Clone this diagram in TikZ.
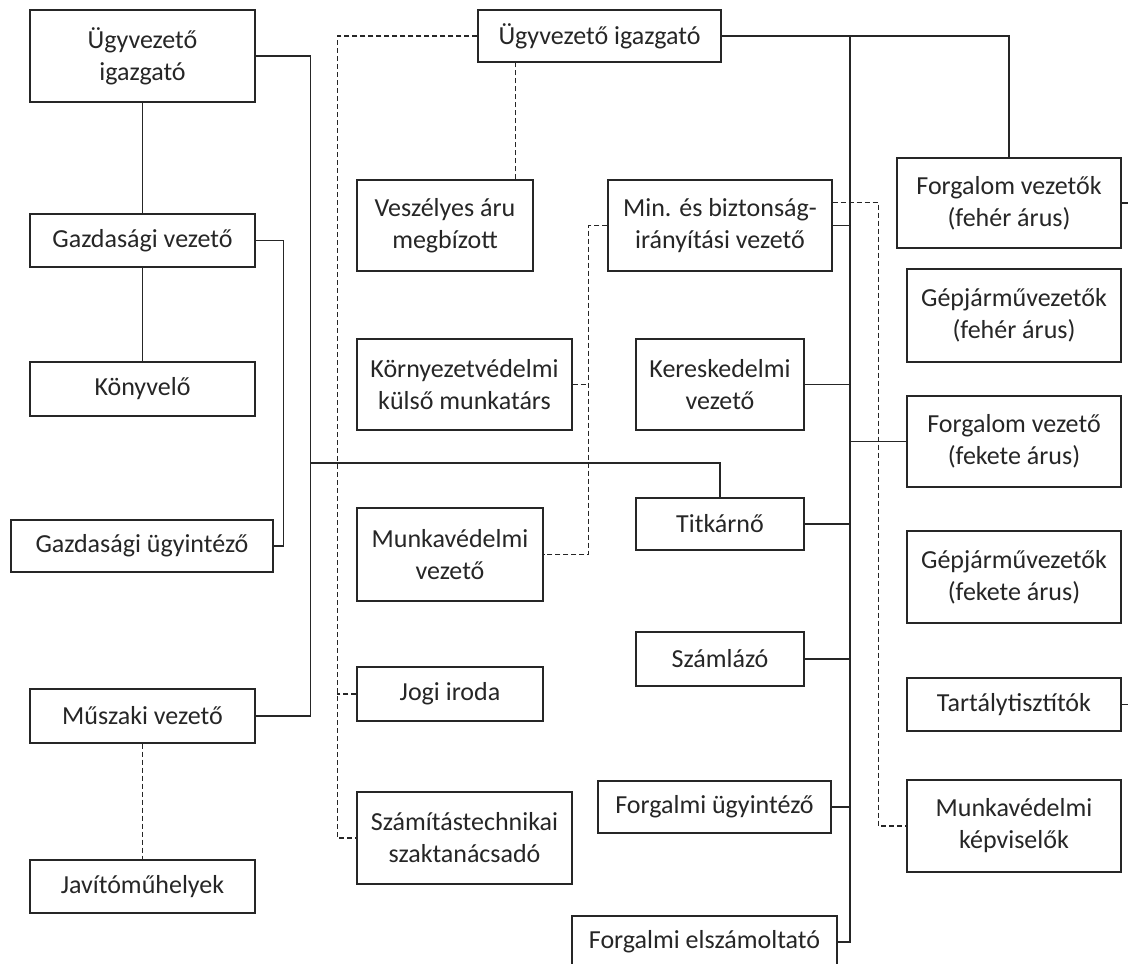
\documentclass[tikz,border=0pt]{standalone}
\usepackage{fontspec}
\setmainfont{Carlito}

\begin{document}
\begin{tikzpicture}[x=1pt, y=-1pt, line width=1.3pt, color=black!85, font=\fontsize{26}{32}\selectfont]

        \tikzstyle{box}=[draw, fill=white, align=center, inner sep=2pt]
        \tikzstyle{staff}=[dash pattern=on 5pt off 3pt, line width=1.2pt]

        \useasboundingbox (0,0) rectangle (1128,964);

        \node[box, minimum width=243pt, minimum height=52pt] (0)  at (599.5,36)  {Ügyvezető igazgató};

        \node[box, minimum width=225pt, minimum height=92pt] (1)  at (142.5,56)  {Ügyvezető\\igazgató};
        \node[box, minimum width=225pt, minimum height=53pt] (2)  at (142.5,240.5) {Gazdasági vezető};
        \node[box, minimum width=225pt, minimum height=54pt] (3)  at (142.5,389) {Könyvelő};
        \node[box, minimum width=262pt, minimum height=52pt] (4)  at (142,546)   {Gazdasági ügyintéző};
        \node[box, minimum width=225pt, minimum height=54pt] (5)  at (142.5,716) {Műszaki vezető};
        \node[box, minimum width=225pt, minimum height=53pt] (6)  at (142.5,886.5) {Javítóműhelyek};

        \node[box, minimum width=176pt, minimum height=91pt] (7)  at (445,225.5)  {Veszélyes áru\\megbízott};
        \node[box, minimum width=215pt, minimum height=91pt] (8)  at (464.5,384.5) {Környezetvédelmi\\külső munkatárs};
        \node[box, minimum width=186pt, minimum height=93pt] (9)  at (450,554.5)  {Munkavédelmi\\vezető};
        \node[box, minimum width=186pt, minimum height=54pt] (10) at (450,694)    {Jogi iroda};
        \node[box, minimum width=215pt, minimum height=92pt] (11) at (464.5,838)  {Számítástechnikai\\szaktanácsadó};

        \node[box, minimum width=224pt, minimum height=91pt] (12) at (720,225.5)  {Min. és biztonság-\\irányítási vezető};
        \node[box, minimum width=168pt, minimum height=91pt] (13) at (720,384.5)  {Kereskedelmi\\vezető};
        \node[box, minimum width=168pt, minimum height=52pt] (14) at (720,524)    {Titkárnő};
        \node[box, minimum width=168pt, minimum height=54pt] (15) at (720,659)    {Számlázó};
        \node[box, minimum width=233pt, minimum height=52pt] (16) at (714.5,807)  {Forgalmi ügyintéző};
        \node[box, minimum width=265pt, minimum height=52pt] (17) at (704.5,942)  {Forgalmi elszámoltató};

        \node[box, minimum width=224pt, minimum height=90pt] (18) at (1009,203)   {Forgalom vezetők\\(fehér árus)};
        \node[box, minimum width=214pt, minimum height=93pt] (19) at (1014,315.5) {Gépjárművezetők\\(fehér árus)};
        \node[box, minimum width=214pt, minimum height=91pt] (20) at (1014,441.5) {Forgalom vezető\\(fekete árus)};
        \node[box, minimum width=214pt, minimum height=92pt] (21) at (1014,577)   {Gépjárművezetők\\(fekete árus)};
        \node[box, minimum width=214pt, minimum height=53pt] (22) at (1014,704.5) {Tartálytisztítók};
        \node[box, minimum width=214pt, minimum height=92pt] (23) at (1014,826)   {Munkavédelmi\\képviselők};

        \coordinate (j) at (310,463);
        \coordinate (t) at (850,36);

        \path
        (1) edge (2)
        (2) edge (3)
        (5) edge[staff] (6)
        ;

        \draw (1.east) -- ++(55,0) |- (5.east);
        \draw (2.east) -- ++(28,0) |- (4.east);
        \draw (j) -| (14);
        \draw (0) -| (18);
        \draw (t) |- (17);
        \foreach \n in {12,13,14,15,16}
            \draw (\n.east) -- (\n.east -| t);
        \draw (20.west) -- (20.west -| t);
        \draw (18.east) -- ++(12,0);
        \draw (22.east) -- ++(12,0);

        \draw[staff] (0.west) -- ++(-140,0) |- (11.west);
        \draw[staff] (10.west) -- ++(-19,0);
        \draw[staff] ([xshift=-18pt]7.north east) -- ([xshift=-18pt]7.north east |- 0.south);
        \draw[staff] (12.west) -- ++(-19,0) coordinate (d) |- (9.east);
        \draw[staff] (8.east) -- (8.east -| d);
        \draw[staff] ([yshift=23pt]12.east) -- ++(46,0) |- (23.west);
    \end{tikzpicture}
\end{document}
